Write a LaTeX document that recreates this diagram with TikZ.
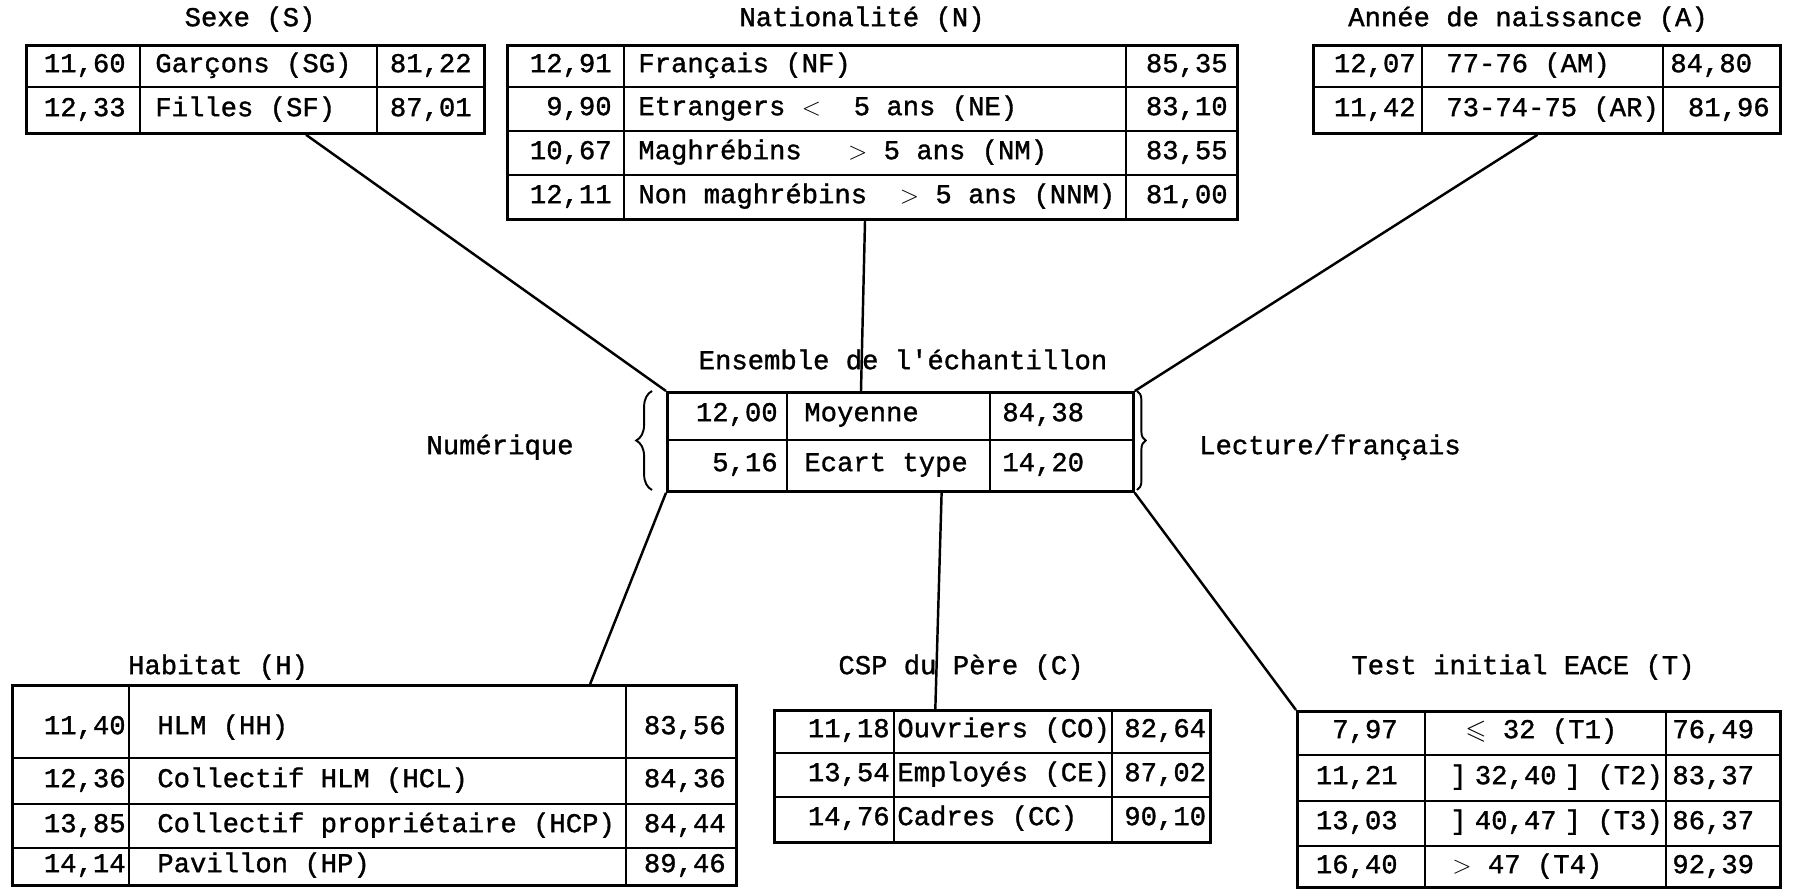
\documentclass[tikz,border=0pt]{standalone}
\usepackage{amsmath}
\usepackage{amssymb}
\usepackage{fontspec}
\setmonofont[FakeBold=1.2]{Liberation Mono}
\usepackage{tikz}
\usetikzlibrary{calc,%
                decorations.pathreplacing}

\begin{document}
\begin{tikzpicture}[x=0.02cm, y=-0.02cm]
    \tikzstyle{frame}=[draw, line width=1.6pt, inner sep=0pt, anchor=north west]
    \tikzstyle{rule}=[line width=1.1pt]
    \tikzstyle{link}=[line width=1.4pt]
    \tikzstyle{typew}=[inner sep=0pt, text height=10pt, text depth=3pt, font=\ttfamily\fontsize{15.5}{18}\selectfont]
    \useasboundingbox (0,0) rectangle (1802,890);

    \node[frame, minimum width=9.16cm, minimum height=1.76cm] (sexe) at (25,44) {};
    \draw[rule] (140,44) -- (140,132) (377,44) -- (377,132) (25,87) -- (483,87);
    \node[typew] (sT) at (250,20) {Sexe (S)};
    \node[typew, anchor=east] (s1a) at (126,66) {11,60};
    \node[typew, anchor=west] (s1b) at (155,66) {Garçons (SG)};
    \node[typew, anchor=east] (s1c) at (472,66) {81,22};
    \node[typew, anchor=east] (s2a) at (126,110) {12,33};
    \node[typew, anchor=west] (s2b) at (155,110) {Filles (SF)};
    \node[typew, anchor=east] (s2c) at (472,110) {87,01};

    \node[frame, minimum width=14.6cm, minimum height=3.48cm] (nat) at (506,44) {};
    \draw[rule] (624,44) -- (624,218) (1126,44) -- (1126,218)
                (506,87) -- (1236,87) (506,131) -- (1236,131) (506,175) -- (1236,175);
    \node[typew] (nT) at (862,20) {Nationalité (N)};
    \node[typew, anchor=east] (n1a) at (612,66) {12,91};
    \node[typew, anchor=west] (n1b) at (638,66) {Français (NF)};
    \node[typew, anchor=east] (n1c) at (1228,66) {85,35};
    \node[typew, anchor=east] (n2a) at (612,109) {9,90};
    \node[typew, anchor=west] (n2b) at (638,109) {Etrangers $<$\ \ 5 ans (NE)};
    \node[typew, anchor=east] (n2c) at (1228,109) {83,10};
    \node[typew, anchor=east] (n3a) at (612,153) {10,67};
    \node[typew, anchor=west] (n3b) at (638,153) {Maghrébins\hspace{1.7em}$>$ 5 ans (NM)};
    \node[typew, anchor=east] (n3c) at (1228,153) {83,55};
    \node[typew, anchor=east] (n4a) at (612,197) {12,11};
    \node[typew, anchor=west] (n4b) at (638,197) {Non maghrébins\ \ $>$ 5 ans (NNM)};
    \node[typew, anchor=east] (n4c) at (1228,197) {81,00};

    \node[frame, minimum width=9.34cm, minimum height=1.76cm] (annee) at (1312,44) {};
    \draw[rule] (1422,44) -- (1422,132) (1663,44) -- (1663,132) (1312,87) -- (1779,87);
    \node[typew] (aT) at (1528,20) {Année de naissance (A)};
    \node[typew, anchor=east] (a1a) at (1416,66) {12,07};
    \node[typew, anchor=west] (a1b) at (1446,66) {77-76 (AM)};
    \node[typew, anchor=west] (a1c) at (1670,66) {84,80};
    \node[typew, anchor=east] (a2a) at (1416,110) {11,42};
    \node[typew, anchor=west] (a2b) at (1446,110) {73-74-75 (AR)};
    \node[typew, anchor=east] (a2c) at (1770,110) {81,96};

    \node[frame, minimum width=9.32cm, minimum height=1.98cm] (ens) at (666,391) {};
    \draw[rule] (787,391) -- (787,490) (990,391) -- (990,490) (666,440) -- (1132,440);
    \draw[rule, decorate, decoration={brace, amplitude=9pt}] (652,490) -- (652,391);
    \draw[rule, decorate, decoration={brace, amplitude=5pt}] (1137,391) -- (1137,490);
    \node[typew] (eT) at (903,363) {Ensemble de l'échantillon};
    \node[typew] (eL) at (500,448) {Numérique};
    \node[typew] (eR) at (1330,448) {Lecture/français};
    \node[typew, anchor=east] (e1a) at (778,415) {12,00};
    \node[typew, anchor=west] (e1b) at (804,415) {Moyenne};
    \node[typew, anchor=west] (e1c) at (1002,415) {84,38};
    \node[typew, anchor=east] (e2a) at (778,465) {5,16};
    \node[typew, anchor=west] (e2b) at (804,465) {Ecart type};
    \node[typew, anchor=west] (e2c) at (1002,465) {14,20};

    \node[frame, minimum width=14.48cm, minimum height=4.0cm] (hab) at (11,684) {};
    \draw[rule] (129,684) -- (129,884) (626,684) -- (626,884)
                (11,758) -- (735,758) (11,804) -- (735,804) (11,848) -- (735,848);
    \node[typew] (hT) at (218,668) {Habitat (H)};
    \node[typew, anchor=east] (h1a) at (126,728) {11,40};
    \node[typew, anchor=west] (h1b) at (157,728) {HLM (HH)};
    \node[typew, anchor=east] (h1c) at (726,728) {83,56};
    \node[typew, anchor=east] (h2a) at (126,781) {12,36};
    \node[typew, anchor=west] (h2b) at (157,781) {Collectif HLM (HCL)};
    \node[typew, anchor=east] (h2c) at (726,781) {84,36};
    \node[typew, anchor=east] (h3a) at (126,826) {13,85};
    \node[typew, anchor=west] (h3b) at (157,826) {Collectif propriétaire (HCP)};
    \node[typew, anchor=east] (h3c) at (726,826) {84,44};
    \node[typew, anchor=east] (h4a) at (126,866) {14,14};
    \node[typew, anchor=west] (h4b) at (157,866) {Pavillon (HP)};
    \node[typew, anchor=east] (h4c) at (726,866) {89,46};

    \node[frame, minimum width=8.72cm, minimum height=2.64cm] (csp) at (773,709) {};
    \draw[rule] (894,709) -- (894,841) (1112,709) -- (1112,841)
                (773,753) -- (1209,753) (773,797) -- (1209,797);
    \node[typew] (cT) at (961,668) {CSP du Père (C)};
    \node[typew, anchor=east] (c1a) at (890,731) {11,18};
    \node[typew, anchor=west] (c1b) at (897,731) {Ouvriers (CO)};
    \node[typew, anchor=west] (c1c) at (1124,731) {82,64};
    \node[typew, anchor=east] (c2a) at (890,775) {13,54};
    \node[typew, anchor=west] (c2b) at (897,775) {Employés (CE)};
    \node[typew, anchor=west] (c2c) at (1124,775) {87,02};
    \node[typew, anchor=east] (c3a) at (890,819) {14,76};
    \node[typew, anchor=west] (c3b) at (897,819) {Cadres (CC)};
    \node[typew, anchor=west] (c3c) at (1124,819) {90,10};

    \node[frame, minimum width=9.66cm, minimum height=3.52cm] (test) at (1296,710) {};
    \draw[frame] (1425,710) -- (1425,886);
    \draw[rule] (1666,710) -- (1666,886)
                (1296,755) -- (1779,755) (1296,801) -- (1779,801) (1296,846) -- (1779,846);
    \node[typew] (tT) at (1523,668) {Test initial EACE (T)};
    \node[typew, anchor=east] (t1a) at (1398,732) {7,97};
    \node[typew, anchor=west] (t1b) at (1465,732) {$\leqslant$ 32 (T1)};
    \node[typew, anchor=west] (t1c) at (1672,732) {76,49};
    \node[typew, anchor=east] (t2a) at (1398,778) {11,21};
    \node[typew, anchor=west] (t2b) at (1450,778) {]\hspace{0.3em}32,40\hspace{0.3em}] (T2)};
    \node[typew, anchor=west] (t2c) at (1672,778) {83,37};
    \node[typew, anchor=east] (t3a) at (1398,823) {13,03};
    \node[typew, anchor=west] (t3b) at (1450,823) {]\hspace{0.3em}40,47\hspace{0.3em}] (T3)};
    \node[typew, anchor=west] (t3c) at (1672,823) {86,37};
    \node[typew, anchor=east] (t4a) at (1398,867) {16,40};
    \node[typew, anchor=west] (t4b) at (1452,867) {$>$ 47 (T4)};
    \node[typew, anchor=west] (t4c) at (1672,867) {92,39};

    \draw[link] ($(sexe.south west)!0.61!(sexe.south east)$) -- (ens.north west);
    \draw[link] ($(nat.south west)!0.49!(nat.south east)$) -- ($(ens.north west)!0.416!(ens.north east)$);
    \draw[link] ($(annee.south west)!0.48!(annee.south east)$) -- (ens.north east);
    \draw[link] (ens.south west) -- ($(hab.north west)!0.797!(hab.north east)$);
    \draw[link] ($(ens.south west)!0.588!(ens.south east)$) -- ($(csp.north west)!0.37!(csp.north east)$);
    \draw[link] (ens.south east) -- (test.north west);
\end{tikzpicture}
\end{document}
